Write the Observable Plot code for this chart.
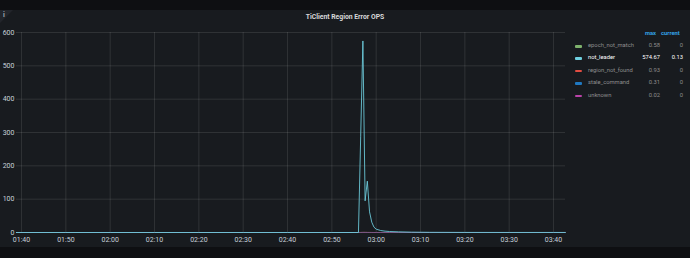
<!DOCTYPE html>
<html>
<head>
<meta charset="utf-8">
<script src="https://cdn.jsdelivr.net/npm/d3@7"></script>
<script src="https://cdn.jsdelivr.net/npm/@observablehq/plot@0.6"></script>
<style>
  html, body { margin: 0; padding: 0; background: #0e0f12; width: 690px; height: 258px; overflow: hidden; font-family: Roboto, "Noto Sans", sans-serif; }
  #panel { position: absolute; left: 0; top: 10px; width: 690px; height: 237px; background: #181b1f; }
  #corner { position: absolute; left: 0; top: 10px; width: 0; height: 0; border-top: 13px solid #22252b; border-right: 13px solid transparent; }
  #info { position: absolute; left: 3px; top: 11px; font-size: 7px; color: #9fa7b3; font-weight: 700; }
  #title { position: absolute; left: 0; top: 13px; width: 690px; text-align: center; font-size: 6.8px; font-weight: 700; color: #d8d9da; }
  #chart { position: absolute; left: 0; top: 0; }
  #legend { position: absolute; left: 570px; top: 30px; font-size: 5.8px; color: #8e8e8e; }
  #legend .hdr { position: absolute; top: 0; color: #33a2e5; font-weight: 700; white-space: nowrap; }
  #legend .row { position: absolute; left: 0; width: 114px; height: 12px; }
  #legend .sw { position: absolute; left: 5px; top: 5px; width: 7px; height: 2.5px; border-radius: 1px; }
  #legend .nm { position: absolute; left: 18px; top: 2px; white-space: nowrap; }
  #legend .mx { position: absolute; right: 24px; top: 2px; text-align: right; }
  #legend .cu { position: absolute; right: 1px; top: 2px; text-align: right; }
</style>
</head>
<body>
<div id="panel"></div>
<div id="corner"></div>
<div id="info">i</div>
<div id="title">TiClient Region Error OPS</div>
<div id="chart"></div>
<div id="legend"></div>
<script>
// ---- data ----
const times = ["01:38:50","01:50:00","02:00:00","02:10:00","02:20:00","02:30:00","02:40:00","02:50:00","02:55:00","02:56:00","02:56:30","02:57:00","02:57:30","02:58:00","02:58:30","02:59:00","02:59:30","03:00:00","03:01:00","03:02:00","03:03:00","03:05:00","03:08:00","03:12:00","03:20:00","03:30:00","03:40:00","03:42:40"];
const seriesNames = ["epoch_not_match","not_leader","region_not_found","stale_command","unknown"];
const seriesColors = ["#7EB26D","#6ED0E0","#E24D42","#1F78C1","#BA43A9"];
const epochNotMatch  = [0,0,0,0,0,0,0,0,0,0,0.2,0.58,0.4,0.3,0.2,0.1,0,0,0,0,0,0,0,0,0,0,0,0];
const notLeader      = [0,0,0,0,0,0,0,0,0,0,287,574.67,95,154,62,31,16,10,6,4,3,2,1,0.5,0.2,0.13,0.13,0.13];
const regionNotFound = [0,0,0,0,0,0,0,0,0,0,0.3,0.6,0.93,0.5,0.3,0.1,0,0,0,0,0,0,0,0,0,0,0,0];
const staleCommand   = [0,0,0,0,0,0,0,0,0,0,0.1,0.31,0.2,0.1,0,0,0,0,0,0,0,0,0,0,0,0,0,0];
const unknownVals    = [0,0,0,0,0,0,0,0,0,0,0,0,0.01,0.02,0.01,0,0,0,0,0,0,0,0,0,0,0,0,0];
const seriesValues = [epochNotMatch, notLeader, regionNotFound, staleCommand, unknownVals];
const yTicks = [0,100,200,300,400,500,600];
const xDomain = ["01:38:52","03:42:42"];

// ---- build ----
const toDate = s => new Date("2021-01-01T" + s + "Z");
const rows = [];
// draw not_leader last so the baseline shows its colour
const order = [0,2,3,4,1];
for (const i of order) {
  times.forEach((t, j) => rows.push({t: toDate(t), v: seriesValues[i][j], s: seriesNames[i]}));
}

const chart = Plot.plot({
  width: 690,
  height: 258,
  marginLeft: 16,
  marginRight: 125,
  marginTop: 32,
  marginBottom: 26,
  style: {background: "transparent", color: "#c7d0d9", fontFamily: "Roboto, sans-serif", fontSize: "7px"},
  x: {type: "utc", domain: xDomain.map(toDate)},
  y: {domain: [0, 600]},
  color: {domain: seriesNames, range: seriesColors},
  marks: [
    Plot.gridX({ticks: d3.utcMinute.every(10), stroke: "#ffffff", strokeOpacity: 0.1}),
    Plot.gridY(yTicks, {stroke: "#ffffff", strokeOpacity: 0.1}),
    Plot.axisX({ticks: d3.utcMinute.every(10), tickFormat: d3.utcFormat("%H:%M"), tickSize: 0, tickPadding: 5, label: null, fill: "#c7d0d9"}),
    Plot.axisY(yTicks, {tickSize: 0, tickPadding: 2, label: null, fill: "#c7d0d9"}),
    Plot.line(rows.filter(d => d.s !== "not_leader"), {x: "t", y: "v", z: "s", stroke: "s", strokeWidth: 1, strokeOpacity: 0.35}),
    Plot.line(rows.filter(d => d.s === "not_leader"), {x: "t", y: "v", z: "s", stroke: "s", strokeWidth: 1, strokeOpacity: 0.85})
  ]
});
document.getElementById("chart").appendChild(chart);

// ---- legend ----
const fmt = v => String(+v.toFixed(2));
const lg = document.getElementById("legend");
const h1 = document.createElement("div"); h1.className = "hdr"; h1.style.left = "75px"; h1.textContent = "max"; lg.appendChild(h1);
const h2 = document.createElement("div"); h2.className = "hdr"; h2.style.left = "91px"; h2.textContent = "current"; lg.appendChild(h2);
seriesNames.forEach((n, i) => {
  const r = document.createElement("div"); r.className = "row"; r.style.top = (10 + i * 12.4) + "px";
  if (n === "not_leader") { r.style.color = "#ffffff"; }
  const vals = seriesValues[i];
  r.innerHTML = `<div class="sw" style="background:${seriesColors[i]}"></div><div class="nm">${n}</div><div class="mx">${fmt(d3.max(vals))}</div><div class="cu">${fmt(vals[vals.length-1])}</div>`;
  lg.appendChild(r);
});
</script>
</body>
</html>
